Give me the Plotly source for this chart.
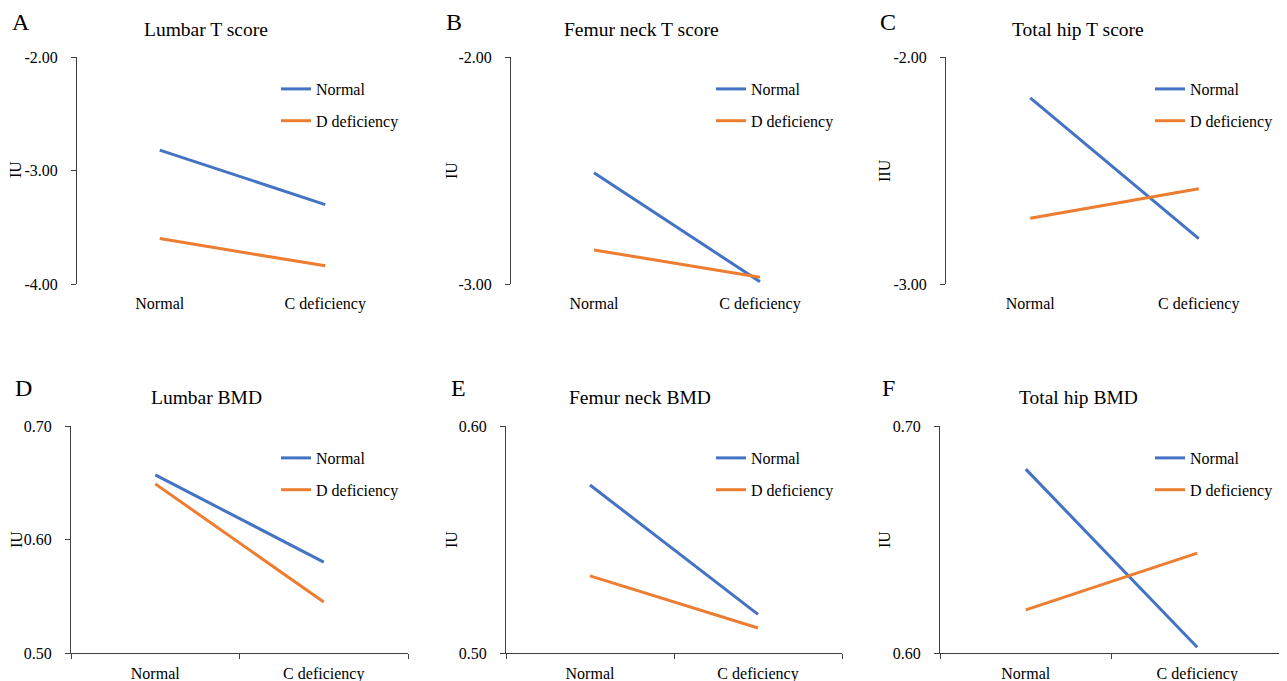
import plotly.graph_objects as go

W, H = 1287, 681
OFF = 8  # page offset of the figure inside the browser body

categories = ["Normal", "C deficiency"]
series_names = ["Normal", "D deficiency"]

panel_letters = ["A", "B", "C", "D", "E", "F"]
panel_titles = ["Lumbar T score", "Femur neck T score", "Total hip T score",
                "Lumbar BMD", "Femur neck BMD", "Total hip BMD"]
y_titles = ["IU", "IU", "IIU", "IU", "IU", "IU"]

# values per panel: Normal series and D deficiency series
lumbar_t_normal = [-2.82, -3.30]
lumbar_t_ddef = [-3.60, -3.84]
femur_t_normal = [-2.51, -2.99]
femur_t_ddef = [-2.85, -2.97]
hip_t_normal = [-2.18, -2.80]
hip_t_ddef = [-2.71, -2.58]
lumbar_bmd_normal = [0.657, 0.580]
lumbar_bmd_ddef = [0.649, 0.545]
femur_bmd_normal = [0.574, 0.517]
femur_bmd_ddef = [0.534, 0.511]
hip_bmd_normal = [0.681, 0.6025]
hip_bmd_ddef = [0.619, 0.644]

y_ranges = [[-4, -2], [-3, -2], [-3, -2], [0.5, 0.7], [0.5, 0.6], [0.6, 0.7]]
y_ticks = [[-4, -3, -2], [-3, -2], [-3, -2], [0.5, 0.6, 0.7], [0.5, 0.6], [0.6, 0.7]]
y_ticklabels = [["-4.00", "-3.00", "-2.00"], ["-3.00", "-2.00"], ["-3.00", "-2.00"],
                ["0.50", "0.60", "0.70"], ["0.50", "0.60"], ["0.60", "0.70"]]

panel_data = [
    (lumbar_t_normal, lumbar_t_ddef),
    (femur_t_normal, femur_t_ddef),
    (hip_t_normal, hip_t_ddef),
    (lumbar_bmd_normal, lumbar_bmd_ddef),
    (femur_bmd_normal, femur_bmd_ddef),
    (hip_bmd_normal, hip_bmd_ddef),
]

colors = ["#4472C4", "#ED7D31"]
FONT = "Liberation Serif, Times New Roman, serif"
AX = "#404040"

# layout geometry in (screen) pixels
x_dom_px = [(77, 408), (511, 843), (946, 1283), (71, 408), (506, 842), (940, 1283)]
y_dom_px = [(57, 284)] * 3 + [(426, 653)] * 3
letter_pos = [(21, 22), (454, 22), (888, 22), (23, 388), (458, 388), (889, 388)]
title_pos = [(206, 29), (641, 29), (1078, 29), (206, 397), (640, 397), (1078, 397)]
ytitle_pos = [(16, 170), (452, 170), (885, 171), (16, 540), (451, 540), (884, 540)]
legend_pos = [(276, 72), (711, 72), (1150, 72), (276, 441), (711, 441), (1150, 441)]


def px_x(v):
    return (v - OFF) / W


def px_y(v):
    return 1 - (v - OFF) / H


fig = go.Figure()
layout = dict(
    width=W, height=H,
    margin=dict(l=0, r=0, t=0, b=0, autoexpand=False),
    paper_bgcolor="white", plot_bgcolor="white",
    font=dict(family=FONT, size=16, color="black"),
    showlegend=True,
)
annotations = []

for i in range(6):
    n = i + 1
    xa = "x" if n == 1 else f"x{n}"
    ya = "y" if n == 1 else f"y{n}"
    xkey = "xaxis" if n == 1 else f"xaxis{n}"
    ykey = "yaxis" if n == 1 else f"yaxis{n}"
    lg = "legend" if n == 1 else f"legend{n}"
    top_row = i < 3

    for s in range(2):
        fig.add_trace(go.Scatter(
            x=categories, y=panel_data[i][s], mode="lines",
            name=series_names[s], line=dict(color=colors[s], width=3),
            xaxis=xa, yaxis=ya, legend=lg, legendgroup=f"g{n}_{s}",
            hoverinfo="x+y+name",
        ))

    xd = [px_x(x_dom_px[i][0]), px_x(x_dom_px[i][1])]
    yd = [px_y(y_dom_px[i][1]), px_y(y_dom_px[i][0])]

    if top_row:
        layout[xkey] = dict(
            domain=xd, anchor=ya, type="category", categoryorder="array",
            categoryarray=categories, range=[-0.5, 1.5], showline=False,
            ticks="", showgrid=False, zeroline=False, ticklabelstandoff=8,
            tickfont=dict(size=16, family=FONT, color="black"),
        )
        # axis line at the top (where the category axis crosses the value axis)
        ov = 6 + n
        layout[f"xaxis{ov}"] = dict(
            overlaying=xa, anchor=ya, side="top", range=[-0.5, 1.5],
            tickmode="array", tickvals=[-0.5, 0.5, 1.5], showticklabels=False,
            ticks="inside", ticklen=5, tickcolor=AX, showline=True,
            linecolor=AX, linewidth=1, showgrid=False, zeroline=False,
        )
    else:
        layout[xkey] = dict(
            domain=xd, anchor=ya, type="category", categoryorder="array",
            categoryarray=categories, range=[-0.5, 1.5], showline=True,
            linecolor=AX, linewidth=1, ticks="outside", tickson="boundaries",
            ticklen=5, tickcolor=AX, showgrid=False, zeroline=False,
            ticklabelstandoff=6,
            tickfont=dict(size=16, family=FONT, color="black"),
        )

    layout[ykey] = dict(
        domain=yd, anchor=xa, range=y_ranges[i], tickmode="array",
        tickvals=y_ticks[i], ticktext=y_ticklabels[i], ticks="outside", ticklen=5,
        tickcolor=AX, showline=True, linecolor=AX, linewidth=1,
        showgrid=False, zeroline=False, ticklabelstandoff=10,
        tickfont=dict(size=16, family=FONT, color="black"),
    )

    lx, ly = legend_pos[i]
    layout[lg] = dict(
        x=px_x(lx), y=px_y(ly), xanchor="left", yanchor="top",
        bgcolor="rgba(0,0,0,0)", font=dict(size=16, family=FONT, color="black"),
        tracegroupgap=8, itemwidth=30,
    )

    annotations.append(dict(
        text=panel_letters[i], x=px_x(letter_pos[i][0]), y=px_y(letter_pos[i][1]),
        xref="paper", yref="paper", showarrow=False, xanchor="center", yanchor="middle",
        font=dict(size=24, family=FONT, color="black"),
    ))
    annotations.append(dict(
        text=panel_titles[i], x=px_x(title_pos[i][0]), y=px_y(title_pos[i][1]),
        xref="paper", yref="paper", showarrow=False, xanchor="center", yanchor="middle",
        font=dict(size=19.5, family=FONT, color="black"),
    ))
    annotations.append(dict(
        text=y_titles[i], x=px_x(ytitle_pos[i][0]), y=px_y(ytitle_pos[i][1]),
        xref="paper", yref="paper", showarrow=False, xanchor="center", yanchor="middle",
        textangle=-90, font=dict(size=16, family=FONT, color="black"),
    ))

layout["annotations"] = annotations
fig.update_layout(**layout)

fig.write_html("out.html")
